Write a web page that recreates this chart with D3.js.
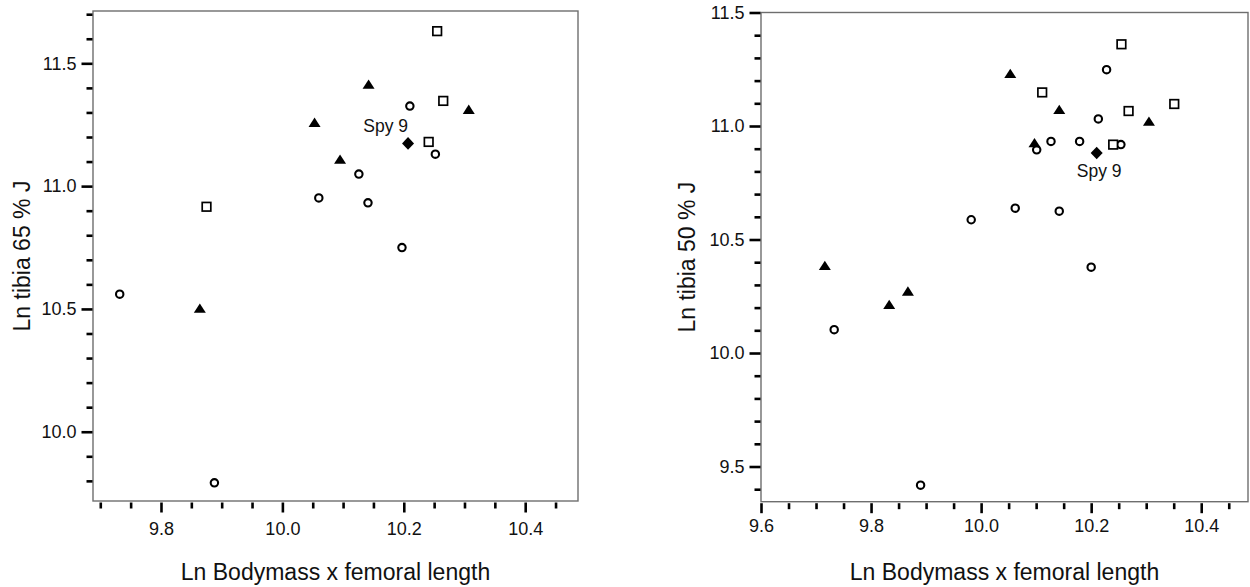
<!DOCTYPE html>
<html>
<head>
<meta charset="utf-8">
<script src="https://cdn.jsdelivr.net/npm/d3@7"></script>
<style>
  html, body { margin: 0; padding: 0; background: #fff; }
  svg { display: block; font-family: "Liberation Sans", Arial, sans-serif; }
</style>
</head>
<body>
<svg id="chart" width="1250" height="587"></svg>
<script>
// ---------- data ----------
// Left panel: Ln tibia 65 % J
const leftCirclesX   = [9.732, 9.888, 10.210, 10.252, 10.126, 10.060, 10.141, 10.197];
const leftCirclesY   = [10.560, 9.792, 11.326, 11.130, 11.049, 10.952, 10.932, 10.750];
const leftSquaresX   = [9.875, 10.255, 10.265, 10.241];
const leftSquaresY   = [10.916, 11.631, 11.347, 11.180];
const leftTrianglesX = [9.864, 10.142, 10.053, 10.095, 10.307];
const leftTrianglesY = [10.502, 11.414, 11.259, 11.109, 11.312];
const leftSpyX = [10.207];
const leftSpyY = [11.174];

// Right panel: Ln tibia 50 % J
const rightCirclesX   = [10.228, 10.213, 10.127, 10.179, 10.254, 10.101, 10.062, 9.982, 10.142, 10.200, 9.733, 9.890];
const rightCirclesY   = [11.248, 11.031, 10.932, 10.932, 10.918, 10.895, 10.638, 10.587, 10.625, 10.378, 10.103, 9.418];
const rightSquaresX   = [10.255, 10.111, 10.268, 10.351, 10.240];
const rightSquaresY   = [11.360, 11.148, 11.066, 11.097, 10.918];
const rightTrianglesX = [10.053, 10.142, 10.305, 10.097, 9.716, 9.833, 9.867];
const rightTrianglesY = [11.231, 11.072, 11.020, 10.926, 10.385, 10.213, 10.272];
const rightSpyX = [10.210];
const rightSpyY = [10.881];

const spyLabel = "Spy 9";
const xTitle = "Ln Bodymass x femoral length";
const leftYTitle = "Ln tibia 65 % J";
const rightYTitle = "Ln tibia 50 % J";

// tick values
const leftXMajor  = [9.8, 10.0, 10.2, 10.4];
const leftXMinor  = [9.7, 9.75, 9.85, 9.9, 9.95, 10.05, 10.1, 10.15, 10.25, 10.3, 10.35, 10.45];
const leftYMajor  = [10.0, 10.5, 11.0, 11.5];
const leftYMinor  = [9.8, 9.9, 10.1, 10.2, 10.3, 10.4, 10.6, 10.7, 10.8, 10.9, 11.1, 11.2, 11.3, 11.4, 11.6, 11.7];
const rightXMajor = [9.6, 9.8, 10.0, 10.2, 10.4];
const rightXMinor = [9.65, 9.7, 9.75, 9.85, 9.9, 9.95, 10.05, 10.1, 10.15, 10.25, 10.3, 10.35, 10.45];
const rightYMajor = [9.5, 10.0, 10.5, 11.0, 11.5];
const rightYMinor = [9.4, 9.6, 9.7, 9.8, 9.9, 10.1, 10.2, 10.3, 10.4, 10.6, 10.7, 10.8, 10.9, 11.1, 11.2, 11.3, 11.4];

const zip = (xs, ys) => xs.map((x, i) => ({x, y: ys[i]}));

const svg = d3.select("#chart");

function panel(cfg) {
  const x = d3.scaleLinear().domain(cfg.xDomain).range([cfg.x0, cfg.x1]);
  const y = d3.scaleLinear().domain(cfg.yDomain).range([cfg.y1, cfg.y0]);
  const g = svg.append("g");

  // frame
  g.append("rect")
    .attr("x", cfg.x0).attr("y", cfg.y0)
    .attr("width", cfg.x1 - cfg.x0).attr("height", cfg.y1 - cfg.y0)
    .attr("fill", "none").attr("stroke", "#6e6e6e").attr("stroke-width", 1.4);

  const fmt = d3.format(".1f");

  // y axis
  const yMaj = g.append("g").attr("transform", `translate(${cfg.x0 - 0.5},0)`)
    .call(d3.axisLeft(y).tickValues(cfg.yMajor).tickSize(11).tickPadding(5).tickFormat(fmt));
  const yMin = g.append("g").attr("transform", `translate(${cfg.x0 - 0.5},0)`)
    .call(d3.axisLeft(y).tickValues(cfg.yMinor).tickSize(6).tickFormat(""));
  // x axis
  const xMaj = g.append("g").attr("transform", `translate(0,${cfg.y1 + 1.5})`)
    .call(d3.axisBottom(x).tickValues(cfg.xMajor).tickSize(10).tickPadding(cfg.xPad).tickFormat(fmt));
  const xMin = g.append("g").attr("transform", `translate(0,${cfg.y1 + 1.5})`)
    .call(d3.axisBottom(x).tickValues(cfg.xMinor).tickSize(6).tickFormat(""));

  [yMaj, yMin, xMaj, xMin].forEach(a => {
    a.select(".domain").remove();
    a.selectAll(".tick line").attr("stroke", "#000").attr("stroke-width", 2.6);
    a.selectAll(".tick text").attr("fill", "#111")
      .style("font-size", "18px").style("font-family", "'Liberation Sans', Arial, sans-serif");
  });

  // titles
  g.append("text")
    .attr("x", (cfg.x0 + cfg.x1) / 2).attr("y", 580)
    .attr("text-anchor", "middle").attr("fill", "#111")
    .style("font-size", "23px").text(xTitle);
  g.append("text")
    .attr("transform", `translate(${cfg.yTitleX},${(cfg.y0 + cfg.y1) / 2}) rotate(-90)`)
    .attr("text-anchor", "middle").attr("fill", "#111")
    .style("font-size", "23px").text(cfg.yTitle);

  // markers
  const pts = g.append("g");
  pts.selectAll("circle.c").data(zip(cfg.circlesX, cfg.circlesY)).join("circle")
    .attr("cx", d => x(d.x)).attr("cy", d => y(d.y)).attr("r", 3.7)
    .attr("fill", "#fff").attr("stroke", "#000").attr("stroke-width", 2.1);

  pts.selectAll("rect.s").data(zip(cfg.squaresX, cfg.squaresY)).join("rect")
    .attr("x", d => x(d.x) - 4.3).attr("y", d => y(d.y) - 4.3)
    .attr("width", 8.6).attr("height", 8.6)
    .attr("fill", "#fff").attr("stroke", "#000").attr("stroke-width", 1.7);

  const tri = "M0,-4.9L6,4.4L-6,4.4Z";
  pts.selectAll("path.t").data(zip(cfg.trianglesX, cfg.trianglesY)).join("path")
    .attr("d", tri)
    .attr("transform", d => `translate(${x(d.x)},${y(d.y)})`)
    .attr("fill", "#000");

  const dia = "M0,-6.3L6,0L0,6.3L-6,0Z";
  const spy = zip(cfg.spyX, cfg.spyY);
  pts.selectAll("path.d").data(spy).join("path")
    .attr("d", dia)
    .attr("transform", d => `translate(${x(d.x)},${y(d.y)})`)
    .attr("fill", "#000");

  pts.selectAll("text.spy").data(spy).join("text")
    .attr("x", d => x(d.x) + cfg.spyDx).attr("y", d => y(d.y) + cfg.spyDy)
    .attr("text-anchor", cfg.spyAnchor).attr("fill", "#111")
    .style("font-size", "17.5px").text(spyLabel);
}

panel({
  x0: 93, x1: 578, y0: 11, y1: 501,
  xDomain: [9.688, 10.487], yDomain: [9.718, 11.713],
  xMajor: leftXMajor, xMinor: leftXMinor, yMajor: leftYMajor, yMinor: leftYMinor,
  xPad: 10, yTitle: leftYTitle, yTitleX: 30,
  circlesX: leftCirclesX, circlesY: leftCirclesY,
  squaresX: leftSquaresX, squaresY: leftSquaresY,
  trianglesX: leftTrianglesX, trianglesY: leftTrianglesY,
  spyX: leftSpyX, spyY: leftSpyY,
  spyDx: 0, spyDy: -11, spyAnchor: "end"
});

panel({
  x0: 761, x1: 1248, y0: 12.5, y1: 501.7,
  xDomain: [9.6, 10.485], yDomain: [9.345, 11.5],
  xMajor: rightXMajor, xMinor: rightXMinor, yMajor: rightYMajor, yMinor: rightYMinor,
  xPad: 6, yTitle: rightYTitle, yTitleX: 695,
  circlesX: rightCirclesX, circlesY: rightCirclesY,
  squaresX: rightSquaresX, squaresY: rightSquaresY,
  trianglesX: rightTrianglesX, trianglesY: rightTrianglesY,
  spyX: rightSpyX, spyY: rightSpyY,
  spyDx: 2.5, spyDy: 24, spyAnchor: "middle"
});
</script>
</body>
</html>
